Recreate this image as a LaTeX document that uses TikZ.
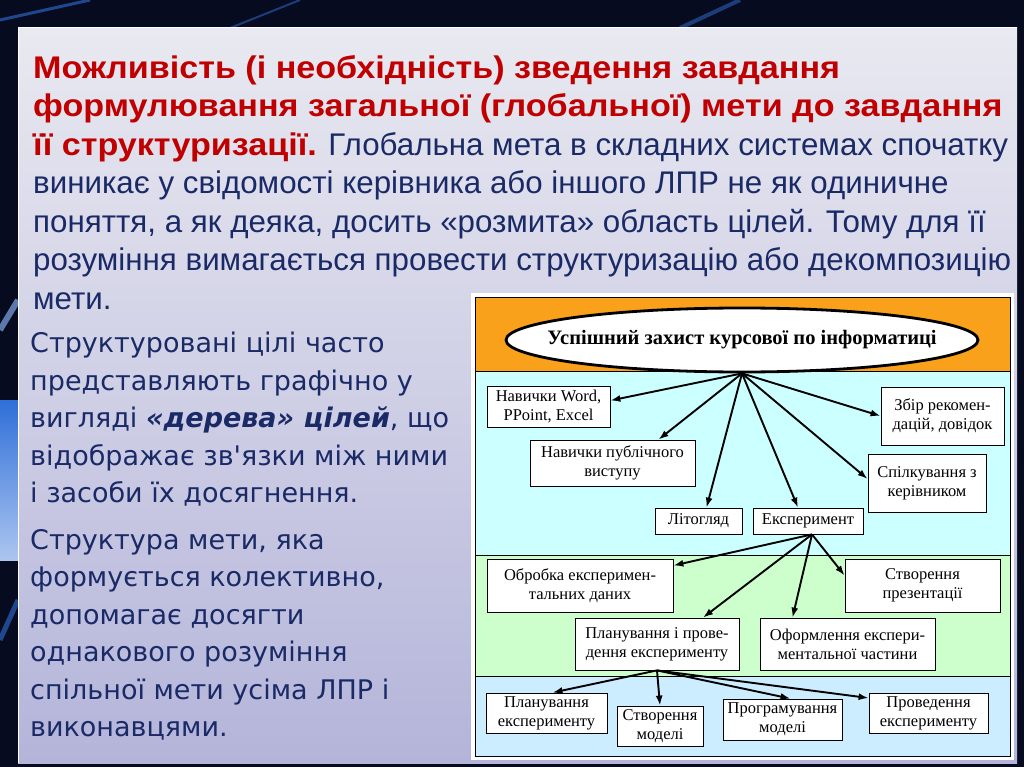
\documentclass[tikz,border=0pt]{standalone}
\usepackage{fontspec}
\setmainfont{Liberation Serif}
\newfontfamily\arialfont{Liberation Sans}[BoldFeatures={FakeStretch=1.09}]
\newfontfamily\verdfont{DejaVu Sans}
\usepackage{xcolor}
\usetikzlibrary{arrows.meta, shapes.geometric}

\definecolor{nich}{HTML}{070B1F}
\definecolor{promin}{HTML}{2F6FD8}
\definecolor{panelverh}{HTML}{E9E9F1}
\definecolor{panelniz}{HTML}{B4B4DA}
\definecolor{chervonyi}{HTML}{C00000}
\definecolor{synii}{HTML}{1A2A66}
\definecolor{pomaranch}{HTML}{F9A11B}
\definecolor{blakytnyi}{HTML}{CCFFFF}
\definecolor{salatovyi}{HTML}{CCFFCC}
\definecolor{svitlosynii}{HTML}{CCECFF}

\newcommand{\vydil}[1]{\textcolor{chervonyi}{\bfseries #1}}

\begin{document}
\begin{tikzpicture}[x=1pt, y=-1pt,
    strilka/.style={-{Latex[length=10pt,width=7pt]}, line width=1.9pt}
  ]
  \tikzset{
    blok/.style={draw=black, fill=white, line width=0.8pt, inner sep=0pt,
      align=center, font=\fontsize{16.5}{19}\selectfont},
    smuga/.style={draw=black, line width=0.8pt}
  }
  \useasboundingbox (0,0) rectangle (1024,767);

  % tlo slajdu
  \fill[nich] (0,0) rectangle (1024,767);
  \draw[promin, line width=3pt, opacity=0.6] (0,20) -- (90,0);
  \draw[promin, line width=2pt, opacity=0.5] (230,28) -- (300,0);
  \draw[promin, line width=4pt, opacity=0.5] (680,28) -- (740,0);
  \draw[promin!60!white, line width=6pt, opacity=0.7] (0,330) -- (18,300);
  \shade[top color=promin, bottom color=promin!40!white] (0,400) rectangle (18,560);
  \draw[promin, line width=5pt, opacity=0.6] (0,640) -- (18,600);

  % panel
  \shade[top color=panelverh, bottom color=panelniz] (18,28) rectangle (1017,763);
  \draw[white, line width=1pt] (18,763) -- (18,28) -- (1017,28);

  % tekst zverhu
  \node[anchor=north west, inner sep=0pt, align=left, text=synii,
        font=\arialfont\fontsize{31.3}{38.5}\selectfont] (vstup) at (33,55)
    {\vydil{Можливість (і необхідність) зведення завдання}\\
     \vydil{формулювання загальної (глобальної) мети до завдання}\\
     \vydil{її структуризації.} Глобальна мета в складних системах спочатку\\
     виникає у свідомості керівника або іншого ЛПР не як одиничне\\
     поняття, а як деяка, досить «розмита» область цілей. Тому для її\\
     розуміння вимагається провести структуризацію або декомпозицію\\
     мети.};

  % tekst zliva
  \node[anchor=north west, inner sep=0pt, align=left, text=synii,
        font=\verdfont\fontsize{27}{37.5}\selectfont] (derevo) at (30,332)
    {Структуровані цілі часто\\
     представляють графічно у\\
     вигляді \textbf{\textit{«дерева» цілей}}, що\\
     відображає зв'язки між ними\\
     і засоби їх досягнення.};
  \node[anchor=north west, inner sep=0pt, align=left, text=synii,
        font=\verdfont\fontsize{27}{37.5}\selectfont] (kolektyv) at (30,529)
    {Структура мети, яка\\
     формується колективно,\\
     допомагає досягти\\
     однакового розуміння\\
     спільної мети усіма ЛПР і\\
     виконавцями.};

  % diagrama
  \fill[white] (471,293) rectangle (1014,760);
  \filldraw[smuga, fill=pomaranch] (475,297) rectangle (1010,371);
  \filldraw[smuga, fill=blakytnyi] (475,371) rectangle (1010,555);
  \filldraw[smuga, fill=salatovyi] (475,555) rectangle (1010,676);
  \filldraw[smuga, fill=svitlosynii] (475,676) rectangle (1010,756);

  \node[ellipse, draw=black, line width=2.8pt, fill=white,
        inner xsep=-29pt, inner ysep=0pt,
        minimum width=472, minimum height=64,
        font=\bfseries\fontsize{20.5}{24}\selectfont] (meta) at (742,340)
    {Успішний захист курсової по інформатиці};

  \node[blok, minimum width=123, minimum height=41] (word) at (548.5,406.5) {Навички Word,\\PPoint, Excel};
  \node[blok, minimum width=123, minimum height=58] (zbir) at (942.5,416) {Збір рекомен-\\дацій, довідок};
  \node[blok, minimum width=165, minimum height=46] (publ) at (612.5,463) {Навички публічного\\виступу};
  \node[blok, minimum width=118, minimum height=58] (spilk) at (927,483) {Спілкування з\\керівником};
  \node[blok, minimum width=87, minimum height=26] (lit) at (698.5,521) {Літогляд};
  \node[blok, minimum width=110, minimum height=26] (eksp) at (808,521) {Експеримент};

  \node[blok, minimum width=186, minimum height=53] (obrobka) at (580,585.5) {Обробка експеримен-\\тальних даних};
  \node[blok, minimum width=155, minimum height=53] (prez) at (922.5,585.5) {Створення\\презентації};
  \node[blok, minimum width=164, minimum height=52] (plan) at (657,644) {Планування і прове-\\дення експерименту};
  \node[blok, minimum width=175, minimum height=52] (oform) at (847.5,644) {Оформлення експери-\\ментальної частини};

  \node[blok, minimum width=121, minimum height=40] (planexp) at (546.5,713) {Планування\\експерименту};
  \node[blok, minimum width=86, minimum height=40] (model) at (660,726) {Створення\\моделі};
  \node[blok, minimum width=119, minimum height=41] (prog) at (782.5,719.5) {Програмування\\моделі};
  \node[blok, minimum width=119, minimum height=40] (proved) at (928.5,713) {Проведення\\експерименту};

  % strilky
  \draw[strilka] (meta.south) -- ([yshift=6pt]word.east);
  \draw[strilka] (meta.south) -- ([xshift=46pt]publ.north);
  \draw[strilka] (meta.south) -- ([xshift=8pt]lit.north);
  \draw[strilka] (meta.south) -- ([xshift=-10pt]eksp.north);
  \draw[strilka] (meta.south) -- ([yshift=4pt]spilk.west);
  \draw[strilka] (meta.south) -- (zbir.west);

  \draw[strilka] ([xshift=4pt]eksp.south) -- ([yshift=20pt]obrobka.east);
  \draw[strilka] ([xshift=4pt]eksp.south) -- ([yshift=10pt]prez.west);
  \draw[strilka] ([xshift=4pt]eksp.south) -- ([xshift=46pt]plan.north);
  \draw[strilka] ([xshift=4pt]eksp.south) -- ([xshift=-55pt]oform.north);

  \draw[strilka] (plan.south) -- ([xshift=6pt]planexp.north);
  \draw[strilka] (plan.south) -- (model.north);
  \draw[strilka] (plan.south) -- ([xshift=8pt]prog.north);
  \draw[strilka] (plan.south) -- ([yshift=15pt]proved.west);
\end{tikzpicture}
\end{document}
